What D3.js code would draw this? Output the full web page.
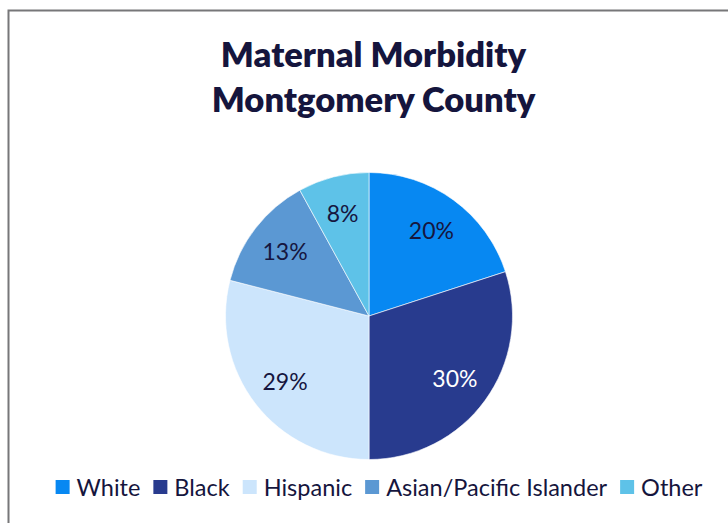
<!DOCTYPE html>
<html>
<head>
<meta charset="utf-8">
<script src="https://cdn.jsdelivr.net/npm/d3@7/dist/d3.min.js"></script>
<style>
  html, body { margin: 0; padding: 0; background: #fff; }
  svg { display: block; }
  text { font-family: Lato, "Open Sans", sans-serif; }
</style>
</head>
<body>
<svg id="chart" width="728" height="523"></svg>
<script>
// Share of maternal morbidity cases by race/ethnicity (percent)
const categories = ["White", "Black", "Hispanic", "Asian/Pacific Islander", "Other"];
const shares = [20, 30, 29, 13, 8];
const sliceColors = ["#0788f2", "#283b8e", "#cce5fc", "#5b98d3", "#5ec2e8"];
const labelColors = ["#16163f", "#ffffff", "#16163f", "#16163f", "#16163f"];
const titleLines = ["Maternal Morbidity", "Montgomery County"];

const W = 728, H = 523;
const svg = d3.select("#chart");
const ink = "#15153d";

// chart frame
svg.append("rect")
  .attr("x", 8.5).attr("y", 10.5)
  .attr("width", W + 20).attr("height", H + 20)
  .attr("fill", "#fff")
  .attr("stroke", "#777779").attr("stroke-width", 2);

// title
const title = svg.append("text")
  .attr("text-anchor", "middle")
  .attr("fill", ink)
  .attr("font-weight", 800)
  .attr("font-size", 34.5);
titleLines.forEach((line, i) => {
  title.append("tspan").attr("x", 373.5).attr("y", 67 + i * 45).text(line);
});

// pie
const cx = 369, cy = 316, R = 143.5;
const pie = d3.pie().sort(null).value(d => d.v)
  .startAngle(0).endAngle(2 * Math.PI);
const rows = categories.map((c, i) => ({ c, v: shares[i], i }));
const arcs = pie(rows);
const arc = d3.arc().innerRadius(0).outerRadius(R);
const labelArc = d3.arc().innerRadius(R * 0.74).outerRadius(R * 0.74);

const g = svg.append("g").attr("transform", `translate(${cx},${cy})`);
g.selectAll("path.slice")
  .data(arcs)
  .join("path")
  .attr("class", "slice")
  .attr("d", arc)
  .attr("fill", d => sliceColors[d.data.i])
  .attr("stroke", "#ffffff")
  .attr("stroke-width", 0.6);

g.selectAll("text.pct")
  .data(arcs)
  .join("text")
  .attr("class", "pct")
  .attr("transform", d => `translate(${labelArc.centroid(d)})`)
  .attr("text-anchor", "middle")
  .attr("dominant-baseline", "central")
  .attr("font-size", 23)
  .attr("fill", d => labelColors[d.data.i])
  .text(d => d3.format(".0f")(d.data.v) + "%");

// legend, centred under the pie
const legend = svg.append("g");
const sw = 14, gapAfterSwatch = 7, gapBetween = 13, fs = 23.5;
let x = 0;
categories.forEach((c, i) => {
  const item = legend.append("g");
  item.append("rect")
    .attr("width", sw).attr("height", sw)
    .attr("y", -sw / 2)
    .attr("fill", sliceColors[i]);
  const t = item.append("text")
    .attr("x", sw + gapAfterSwatch)
    .attr("dominant-baseline", "central")
    .attr("font-size", fs)
    .attr("fill", ink)
    .text(c);
  const w = sw + gapAfterSwatch + t.node().getComputedTextLength();
  item.attr("transform", `translate(${x},0)`);
  x += w + gapBetween;
});
const total = x - gapBetween;
legend.attr("transform", `translate(${(55 + 703) / 2 - total / 2},487)`);
</script>
</body>
</html>
